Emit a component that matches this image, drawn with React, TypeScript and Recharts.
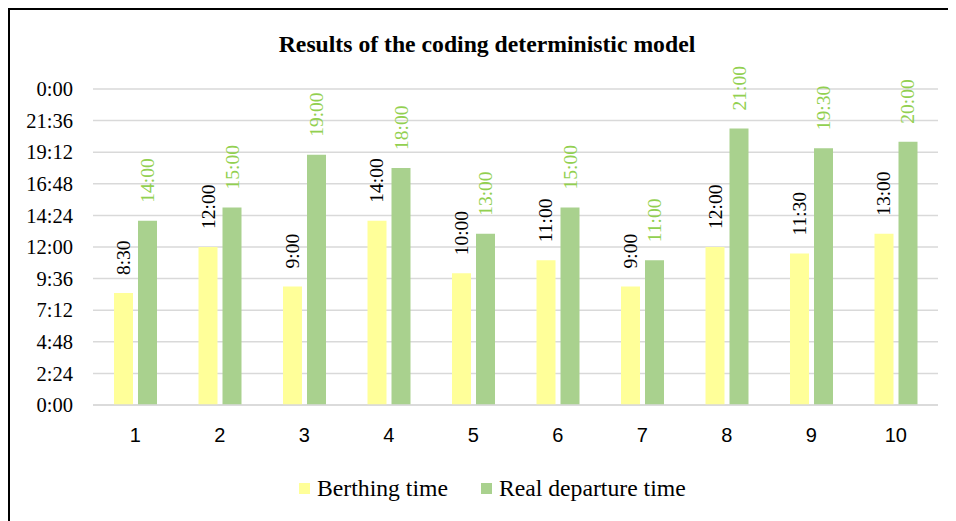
import { Bar, BarChart, CartesianGrid, LabelList, Legend, XAxis, YAxis } from "recharts";

const SERIF = "Liberation Serif, Tinos, Times New Roman, Times, DejaVu Serif, serif";
const SANS = "Liberation Sans, Arial, sans-serif";

const BERTH_COLOR = "#ffff99";
const DEPART_COLOR = "#a9d18e";
const DEPART_LABEL = "#92d050";

// vessels 1..10, times in hours of the day
const VESSELS = ["1", "2", "3", "4", "5", "6", "7", "8", "9", "10"];
const BERTHING = [8.5, 12, 9, 14, 10, 11, 9, 12, 11.5, 13];
const DEPARTURE = [14, 15, 19, 18, 13, 15, 11, 21, 19.5, 20];
const Y_TICKS = [0, 2.4, 4.8, 7.2, 9.6, 12, 14.4, 16.8, 19.2, 21.6, 24];

function hhmm(v: number) {
  const total = Math.round(v * 60);
  const h = Math.floor(total / 60) % 24;
  const m = total % 60;
  return `${h}:${String(m).padStart(2, "0")}`;
}

const data = VESSELS.map((v, i) => ({
  vessel: v,
  berthing: BERTHING[i],
  departure: DEPARTURE[i],
}));

function rotatedLabel(color: string) {
  return (props: any) => {
    const { x, y, width, value } = props;
    const cx = Number(x) + Number(width) / 2;
    const ty = Number(y) - 18;
    return (
      <text
        x={cx}
        y={ty}
        transform={`rotate(-90, ${cx}, ${ty})`}
        textAnchor="start"
        dominantBaseline="central"
        fill={color}
        style={{ fontFamily: SERIF, fontSize: 19.5 }}
      >
        {hhmm(Number(value))}
      </text>
    );
  };
}

function LegendBox() {
  const items = [
    { name: "Berthing time", color: BERTH_COLOR },
    { name: "Real departure time", color: DEPART_COLOR },
  ];
  return (
    <div style={{ display: "flex", alignItems: "center", paddingLeft: 289 }}>
      {items.map((it, i) => (
        <div
          key={it.name}
          style={{ display: "flex", alignItems: "center", marginLeft: i ? 33 : 0 }}
        >
          <span style={{ width: 11, height: 11, background: it.color, display: "inline-block" }} />
          <span
            style={{ marginLeft: 7, fontFamily: SERIF, fontSize: 23.7, lineHeight: "28px", color: "#000" }}
          >
            {it.name}
          </span>
        </div>
      ))}
    </div>
  );
}

export default function App() {
  return (
    <div
      style={{
        position: "relative",
        width: 948,
        height: 513,
        borderTop: "2px solid #000",
        borderLeft: "2px solid #000",
        boxSizing: "border-box",
        background: "#fff",
      }}
    >
      <div
        style={{
          position: "absolute",
          top: 20,
          left: 0,
          width: 954,
          textAlign: "center",
          fontFamily: SERIF,
          fontWeight: "bold",
          fontSize: 23.7,
          lineHeight: "28px",
          color: "#000",
        }}
      >
        Results of the coding deterministic model
      </div>
      <BarChart
        width={946}
        height={511}
        data={data}
        margin={{ top: 79, right: 18, bottom: 86, left: 0 }}
        barSize={19}
        barGap={5}
      >
        <CartesianGrid vertical={false} stroke="#d9d9d9" strokeWidth={1.5} />
        <XAxis
          dataKey="vessel"
          height={30}
          tickLine={false}
          axisLine={{ stroke: "#d9d9d9", strokeWidth: 1.5 }}
          tickSize={0}
          tickMargin={23}
          tick={{ fontSize: 20, fill: "#000", style: { fontFamily: SANS } }}
        />
        <YAxis
          width={83}
          domain={[0, 24]}
          ticks={Y_TICKS}
          interval={0}
          tickFormatter={hhmm}
          tickLine={false}
          axisLine={false}
          tickSize={0}
          tickMargin={20}
          tick={{ fontSize: 20.5, fill: "#000", style: { fontFamily: SERIF } }}
        />
        <Legend
          verticalAlign="middle"
          wrapperStyle={{ top: 464, left: 0, width: 946 }}
          content={() => <LegendBox />}
        />
        <Bar dataKey="berthing" name="Berthing time" fill={BERTH_COLOR} isAnimationActive={false}>
          <LabelList dataKey="berthing" content={rotatedLabel("#000")} />
        </Bar>
        <Bar dataKey="departure" name="Real departure time" fill={DEPART_COLOR} isAnimationActive={false}>
          <LabelList dataKey="departure" content={rotatedLabel(DEPART_LABEL)} />
        </Bar>
      </BarChart>
    </div>
  );
}
